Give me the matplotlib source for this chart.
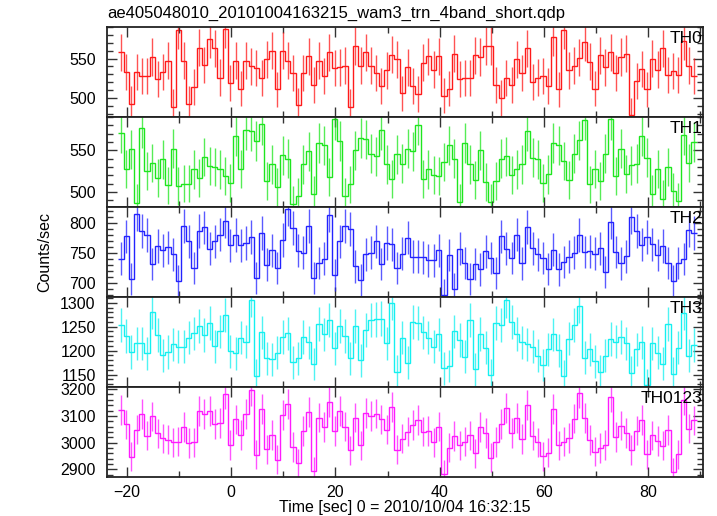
import numpy as np
import matplotlib
matplotlib.use("Agg")
import matplotlib.pyplot as plt
from matplotlib.ticker import MultipleLocator

# WAM light curves, 1 s bins, counts/sec
t_first = -21.67   # left edge of the first bin [sec]
bin_sec = 1.0

th0 = [558, 533, 493, 533, 528, 528, 552, 524, 533, 547, 489, 586, 547, 493, 514, 564,
       542, 575, 563, 526, 587, 519, 547, 512, 547, 540, 538, 525, 549, 560, 511, 560,
       547, 532, 491, 532, 553, 516, 547, 528, 558, 538, 539, 541, 489, 566, 541, 558,
       541, 532, 515, 535, 555, 549, 506, 539, 515, 505, 545, 553, 536, 553, 503, 512,
       556, 524, 525, 525, 554, 552, 566, 566, 516, 500, 525, 516, 549, 532, 563, 520,
       526, 528, 515, 577, 511, 586, 535, 541, 551, 571, 546, 512, 554, 539, 558, 532,
       552, 556, 478, 522, 537, 511, 550, 536, 563, 529, 534, 529, 572, 541, 528]

th1 = [571, 528, 551, 487, 577, 525, 535, 517, 539, 508, 552, 507, 510, 510, 527, 517,
       542, 531, 530, 527, 519, 511, 567, 528, 574, 573, 561, 581, 513, 533, 506, 544,
       540, 485, 495, 533, 549, 497, 559, 556, 518, 587, 561, 495, 509, 550, 565, 563,
       546, 543, 574, 533, 516, 545, 534, 552, 549, 580, 516, 527, 520, 519, 536, 556,
       540, 488, 559, 533, 514, 550, 512, 488, 513, 540, 543, 520, 527, 533, 573, 541,
       539, 511, 521, 559, 556, 537, 514, 546, 562, 586, 509, 528, 513, 546, 587, 519,
       552, 522, 532, 534, 567, 541, 498, 528, 492, 530, 501, 489, 568, 535, 560]

th2 = [740, 777, 706, 814, 786, 779, 731, 761, 754, 759, 747, 703, 794, 769, 724, 786,
       792, 756, 769, 780, 802, 762, 779, 762, 766, 776, 708, 783, 730, 754, 724, 771,
       823, 791, 753, 750, 794, 708, 733, 740, 812, 713, 769, 794, 789, 727, 704, 747,
       750, 769, 731, 766, 764, 724, 748, 775, 743, 743, 742, 737, 737, 754, 680, 746,
       689, 756, 733, 706, 731, 722, 752, 741, 716, 777, 756, 741, 780, 732, 793, 757,
       747, 741, 723, 755, 722, 734, 743, 750, 779, 751, 752, 748, 757, 717, 801, 751,
       732, 744, 809, 786, 763, 776, 764, 746, 761, 733, 703, 733, 739, 788, 783]

th3 = [1253, 1230, 1197, 1215, 1215, 1194, 1280, 1233, 1190, 1197, 1213, 1208, 1208, 1227,
       1236, 1251, 1232, 1258, 1209, 1240, 1274, 1199, 1194, 1227, 1219, 1306, 1148, 1238,
       1184, 1182, 1196, 1228, 1236, 1176, 1184, 1228, 1217, 1172, 1255, 1234, 1263, 1205,
       1251, 1230, 1184, 1251, 1180, 1243, 1263, 1265, 1267, 1215, 1299, 1156, 1227, 1175,
       1260, 1257, 1238, 1227, 1208, 1234, 1163, 1168, 1240, 1222, 1187, 1263, 1161, 1235,
       1206, 1149, 1258, 1253, 1305, 1260, 1235, 1217, 1213, 1208, 1189, 1170, 1203, 1234,
       1201, 1147, 1225, 1253, 1294, 1185, 1203, 1178, 1156, 1189, 1224, 1219, 1228, 1215,
       1154, 1203, 1217, 1128, 1215, 1196, 1173, 1255, 1152, 1206, 1279, 1189, 1212]

th0123 = [3122, 3068, 2947, 3049, 3106, 3026, 3098, 3035, 3016, 3011, 3001, 3004, 3059, 2999,
          3001, 3118, 3108, 3120, 3071, 3073, 3182, 2991, 3087, 3029, 3106, 3195, 2955, 3127,
          2976, 3029, 2937, 3103, 3146, 2984, 2923, 3043, 3113, 2893, 3094, 3058, 3151, 3043,
          3120, 3060, 2971, 3094, 2990, 3111, 3100, 3109, 3087, 3049, 3134, 2974, 3015, 3041,
          3067, 3085, 3041, 3044, 3001, 3060, 2882, 2982, 3025, 2990, 3004, 3027, 2960, 3059,
          3036, 2944, 3003, 3070, 3129, 3037, 3091, 3014, 3142, 3026, 3001, 2950, 2962, 3125,
          2990, 3004, 3017, 3090, 3186, 3093, 3010, 2966, 2980, 2991, 3170, 3021, 3064, 3037,
          2973, 3045, 3084, 2956, 3027, 3006, 2989, 3047, 2890, 2957, 3158, 3053, 3083]

names = ["TH0", "TH1", "TH2", "TH3", "TH0123"]
series = [th0, th1, th2, th3, th0123]
colors = ["#ff1a1a", "#1ee61e", "#2323ff", "#14f0f0", "#ff1aff"]
ylims = [(476, 590), (482, 590), (676, 826), (1124, 1312), (2872, 3208)]
major = [50, 50, 50, 50, 100]
minor = [10, 10, 10, 10, 20]

plt.rcParams['font.family'] = ['Liberation Sans', 'DejaVu Sans']

fig, axes = plt.subplots(5, 1, sharex=True, figsize=(7.17, 5.16), dpi=100)
fig.subplots_adjust(left=0.149, right=0.980, top=0.9477, bottom=0.0756, hspace=0)

for ax, name, vals, col, yl, mj, mn in zip(axes, names, series, colors, ylims, major, minor):
    vals = np.array(vals, dtype=float)
    edges = t_first + bin_sec * np.arange(len(vals) + 1)
    centers = 0.5 * (edges[:-1] + edges[1:])
    # poisson errors for 1 s bins
    ax.errorbar(centers, vals, yerr=np.sqrt(vals * bin_sec) / bin_sec, fmt='none',
                ecolor=col, elinewidth=1.0, alpha=0.75)
    ax.stairs(vals, edges, baseline=None, color=col, lw=1.0)
    ax.set_ylim(*yl)
    ax.set_xlim(-23.9, 90.5)
    ax.yaxis.set_major_locator(MultipleLocator(mj))
    ax.yaxis.set_minor_locator(MultipleLocator(mn))
    ax.xaxis.set_major_locator(MultipleLocator(20))
    ax.xaxis.set_minor_locator(MultipleLocator(10))
    ax.tick_params(which='both', direction='in', top=True, right=True,
                   colors='#333333', labelcolor='black', labelsize=11.5, width=1.0)
    ax.tick_params(which='major', length=7)
    ax.tick_params(which='minor', length=4)
    ax.tick_params(axis='y', pad=8)
    ax.tick_params(axis='x', pad=6)
    for sp in ax.spines.values():
        sp.set_linewidth(1.3)
        sp.set_color('#222222')
    ax.text(1.0, 0.96, name, transform=ax.transAxes, ha='right', va='top', fontsize=12.5)

fig.text(0.149, 0.966, "ae405048010_20101004163215_wam3_trn_4band_short.qdp",
         ha='left', va='baseline', fontsize=12)
fig.text(0.063, 0.512, "Counts/sec", rotation=90, ha='center', va='center', fontsize=11.5)
fig.text(0.565, 0.016, "Time [sec] 0 = 2010/10/04 16:32:15", ha='center', va='center',
         fontsize=11.5)

fig.savefig("out.png", dpi=100)
